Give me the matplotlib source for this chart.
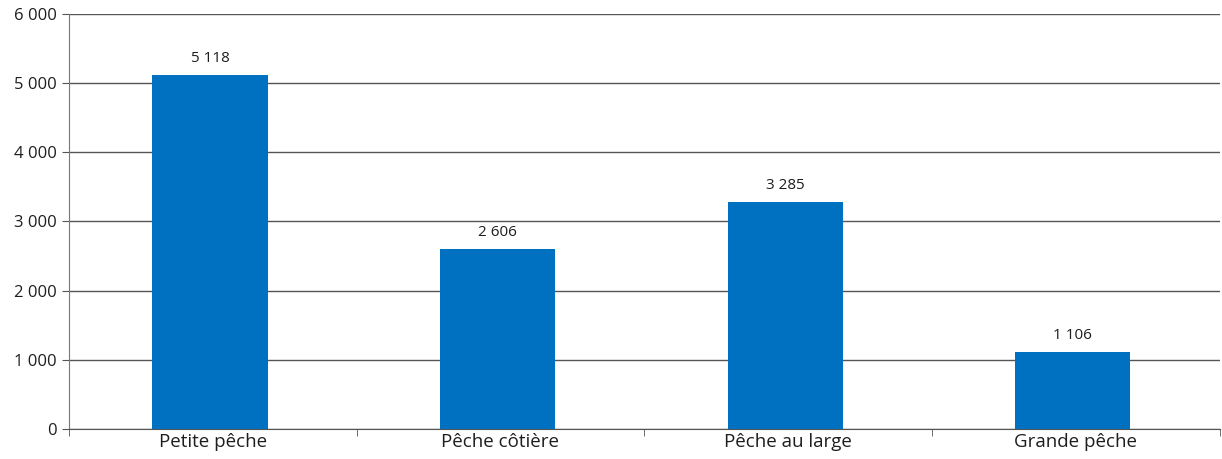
import matplotlib.pyplot as plt
import numpy as np

plt.rcParams['font.family'] = ['Open Sans', 'DejaVu Sans']

categories = ['Petite pêche', 'Pêche côtière', 'Pêche au large', 'Grande pêche']
values = [5118, 2606, 3285, 1106]
yticks = [0, 1000, 2000, 3000, 4000, 5000, 6000]


def fmt(v):
    return f'{v:,}'.replace(',', ' ')


fig = plt.figure(figsize=(12.22, 4.59), dpi=100)
ax = fig.add_axes([0.0565, 0.0654, 0.9415, 0.9041])

x = np.arange(len(categories))
ax.bar(x - 0.01, values, width=0.4, color='#0070C0', zorder=3)
for xi, v in zip(x, values):
    ax.text(xi - 0.01, v + 130, fmt(v), ha='center', va='bottom', fontsize=11, color='#1e1e1e')

ax.set_xlim(-0.5, len(categories) - 0.5)
ax.set_ylim(0, 6000)
ax.set_yticks(yticks)
ax.set_yticklabels([fmt(t) for t in yticks], fontsize=12, color='#1e1e1e')
ax.yaxis.grid(True, color='#555555', linewidth=1, zorder=0)

ax.set_xticks(x)
ax.set_xticklabels(categories, fontsize=13.5, color='#1e1e1e')
ax.tick_params(axis='x', length=0, pad=3)
ax.set_xticks(np.arange(-0.5, len(categories)), minor=True)
ax.tick_params(axis='x', which='minor', length=5, color='#555555')
ax.tick_params(axis='y', length=5, color='#555555', pad=4)

for s in ['top', 'right']:
    ax.spines[s].set_visible(False)
ax.spines['left'].set_color('#777777')
ax.spines['bottom'].set_color('#555555')

fig.savefig('out.png', dpi=100)
